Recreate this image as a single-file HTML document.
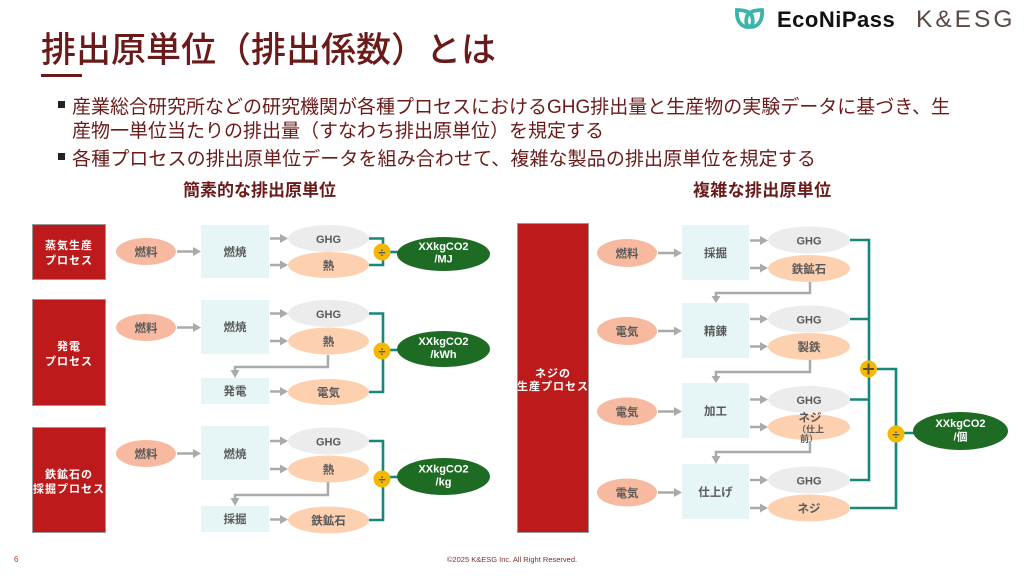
<!DOCTYPE html>
<html><head><meta charset="utf-8">
<style>
html,body{margin:0;padding:0;background:#fff;}
body{width:1024px;height:576px;overflow:hidden;}
svg{display:block;font-family:"Liberation Sans","Noto Sans CJK JP",sans-serif;}
.n{font-size:11.5px;font-weight:bold;fill:#595959;text-anchor:middle;}
.w{font-size:11px;font-weight:bold;fill:#fff;text-anchor:middle;letter-spacing:1px;}
.r{font-size:11px;font-weight:bold;fill:#fff;text-anchor:middle;}
.ga{stroke:#aaaaaa;stroke-width:2.5;fill:none;}
.gh{fill:#aaaaaa;}
.tl{stroke:#16877b;stroke-width:2.6;fill:none;}
</style></head>
<body>
<svg width="1024" height="576" viewBox="0 0 1024 576" xmlns="http://www.w3.org/2000/svg">
<!-- logo -->
<g fill="none" stroke="#3db3aa" stroke-width="3.8" stroke-linecap="round">
<path d="M737,10 C736,22 742,27 748,27 C752,27 754,23 752,16 C750,12 745,10 737,10 Z"/>
<path d="M762,10 C763,22 757,27 751,27 C747,27 745,23 747,16 C749,12 754,10 762,10 Z"/>
</g>
<text x="777" y="27" style="font-size:22px;font-weight:bold;fill:#111;letter-spacing:0.5px;">EcoNiPass</text>
<text x="916" y="27" style="font-size:24.5px;fill:#5a4a44;letter-spacing:3px;">K&amp;ESG</text>

<!-- title -->
<text x="41" y="62" style="font-size:35px;font-weight:500;fill:#6b1a1a;">排出原単位（排出係数）とは</text>
<rect x="41" y="74" width="41" height="3" fill="#6b1a1a"/>

<!-- bullets -->
<rect x="58" y="101" width="7" height="7" fill="#222"/>
<text x="72" y="113" style="font-size:19px;fill:#6b1a1a;">産業総合研究所などの研究機関が各種プロセスにおけるGHG排出量と生産物の実験データに基づき、生</text>
<text x="72" y="137" style="font-size:19px;fill:#6b1a1a;">産物一単位当たりの排出量（すなわち排出原単位）を規定する</text>
<rect x="58" y="153" width="7" height="7" fill="#222"/>
<text x="72" y="165" style="font-size:19px;fill:#6b1a1a;letter-spacing:0.1px;">各種プロセスの排出原単位データを組み合わせて、複雑な製品の排出原単位を規定する</text>

<text x="183" y="196" style="font-size:17px;font-weight:bold;fill:#6b1a1a;">簡素的な排出原単位</text>
<text x="693" y="196" style="font-size:17px;font-weight:bold;fill:#6b1a1a;letter-spacing:0.3px;">複雑な排出原単位</text>

<!-- ================= LEFT ================= -->
<!-- Block 1 -->
<rect x="32.5" y="224.5" width="73" height="55" fill="#bd1b1b" stroke="#999" stroke-width="1"/>
<text class="w" x="69" y="249">蒸気生産</text>
<text class="w" x="69" y="264">プロセス</text>
<ellipse cx="146" cy="251.5" rx="30" ry="13.5" fill="#f7b9a0"/>
<text class="n" x="146" y="256">燃料</text>
<line class="ga" x1="177" y1="251.5" x2="194" y2="251.5"/><polygon class="gh" points="193,247 201,251.5 193,256"/>
<rect x="201" y="225" width="68" height="53" fill="#e6f5f5"/>
<text class="n" x="235" y="256">燃焼</text>
<line class="ga" x1="270" y1="238.5" x2="281" y2="238.5"/><polygon class="gh" points="280,234 288,238.5 280,243"/>
<line class="ga" x1="270" y1="265" x2="281" y2="265"/><polygon class="gh" points="280,260.5 288,265 280,269.5"/>
<ellipse cx="328.5" cy="238.5" rx="40.5" ry="13.5" fill="#ececec"/>
<text class="n" x="328.5" y="243" style="font-size:11px">GHG</text>
<ellipse cx="328.5" cy="265" rx="40.5" ry="13" fill="#fdd0b0"/>
<text class="n" x="328.5" y="269.5">熱</text>
<path class="tl" d="M369,238.5 H383 V265 H369"/>
<line class="tl" x1="383" y1="252" x2="398" y2="252"/>
<circle cx="382" cy="252" r="8.5" fill="#f5b800"/>
<text x="382" y="257" style="font-size:13px;font-weight:bold;fill:#555;text-anchor:middle;">÷</text>
<ellipse cx="443.5" cy="254" rx="46.5" ry="17" fill="#1e6b24"/>
<text class="r" x="443.5" y="250">XXkgCO2</text>
<text class="r" x="443.5" y="262.5">/MJ</text>

<!-- Block 2 -->
<rect x="32.5" y="299.5" width="73" height="106" fill="#bd1b1b" stroke="#999" stroke-width="1"/>
<text class="w" x="69" y="350">発電</text>
<text class="w" x="69" y="365">プロセス</text>
<ellipse cx="146" cy="327.5" rx="30" ry="13.5" fill="#f7b9a0"/>
<text class="n" x="146" y="332">燃料</text>
<line class="ga" x1="177" y1="327.5" x2="194" y2="327.5"/><polygon class="gh" points="193,323 201,327.5 193,332"/>
<rect x="201" y="300" width="68" height="54" fill="#e6f5f5"/>
<text class="n" x="235" y="331">燃焼</text>
<line class="ga" x1="270" y1="313.5" x2="281" y2="313.5"/><polygon class="gh" points="280,309 288,313.5 280,318"/>
<line class="ga" x1="270" y1="341" x2="281" y2="341"/><polygon class="gh" points="280,336.5 288,341 280,345.5"/>
<ellipse cx="328.5" cy="313.5" rx="40.5" ry="13.5" fill="#ececec"/>
<text class="n" x="328.5" y="318" style="font-size:11px">GHG</text>
<ellipse cx="328.5" cy="341" rx="40.5" ry="13.5" fill="#fdd0b0"/>
<text class="n" x="328.5" y="345.5">熱</text>
<path class="ga" d="M328,355 V367 H235 V371"/><polygon class="gh" points="230.5,370 239.5,370 235,378"/>
<rect x="201" y="378" width="68" height="26" fill="#e6f5f5"/>
<text class="n" x="235" y="395">発電</text>
<line class="ga" x1="270" y1="391.5" x2="281" y2="391.5"/><polygon class="gh" points="280,387 288,391.5 280,396"/>
<ellipse cx="328.5" cy="392" rx="40.5" ry="13" fill="#fdd0b0"/>
<text class="n" x="328.5" y="396.5">電気</text>
<path class="tl" d="M369,313.5 H383 V392 H369"/>
<line class="tl" x1="383" y1="350" x2="398" y2="350"/>
<circle cx="382" cy="351" r="8.5" fill="#f5b800"/>
<text x="382" y="356" style="font-size:13px;font-weight:bold;fill:#555;text-anchor:middle;">÷</text>
<ellipse cx="443.5" cy="349" rx="46.5" ry="18" fill="#1e6b24"/>
<text class="r" x="443.5" y="345">XXkgCO2</text>
<text class="r" x="443.5" y="358">/kWh</text>

<!-- Block 3 -->
<rect x="32.5" y="427.5" width="73" height="105" fill="#bd1b1b" stroke="#999" stroke-width="1"/>
<text class="w" x="69" y="478">鉄鉱石の</text>
<text class="w" x="69" y="492.5">採掘プロセス</text>
<ellipse cx="146" cy="453.5" rx="30" ry="13.5" fill="#f7b9a0"/>
<text class="n" x="146" y="458">燃料</text>
<line class="ga" x1="177" y1="453.5" x2="194" y2="453.5"/><polygon class="gh" points="193,449 201,453.5 193,458"/>
<rect x="201" y="426" width="68" height="54" fill="#e6f5f5"/>
<text class="n" x="235" y="458">燃焼</text>
<line class="ga" x1="270" y1="441" x2="281" y2="441"/><polygon class="gh" points="280,436.5 288,441 280,445.5"/>
<line class="ga" x1="270" y1="469" x2="281" y2="469"/><polygon class="gh" points="280,464.5 288,469 280,473.5"/>
<ellipse cx="328.5" cy="441" rx="40.5" ry="13.5" fill="#ececec"/>
<text class="n" x="328.5" y="445.5" style="font-size:11px">GHG</text>
<ellipse cx="328.5" cy="469" rx="40.5" ry="13.5" fill="#fdd0b0"/>
<text class="n" x="328.5" y="473.5">熱</text>
<path class="ga" d="M328,482 V495 H235 V499"/><polygon class="gh" points="230.5,498 239.5,498 235,506"/>
<rect x="201" y="506" width="68" height="26" fill="#e6f5f5"/>
<text class="n" x="235" y="523">採掘</text>
<line class="ga" x1="270" y1="519.5" x2="281" y2="519.5"/><polygon class="gh" points="280,515 288,519.5 280,524"/>
<ellipse cx="328.5" cy="520" rx="40.5" ry="13.5" fill="#fdd0b0"/>
<text class="n" x="328.5" y="524.5">鉄鉱石</text>
<path class="tl" d="M369,441 H383 V520 H369"/>
<line class="tl" x1="383" y1="477" x2="398" y2="477"/>
<circle cx="382" cy="479" r="8.5" fill="#f5b800"/>
<text x="382" y="484" style="font-size:13px;font-weight:bold;fill:#555;text-anchor:middle;">÷</text>
<ellipse cx="443.5" cy="476.5" rx="46.5" ry="18.5" fill="#1e6b24"/>
<text class="r" x="443.5" y="472.5">XXkgCO2</text>
<text class="r" x="443.5" y="485.5">/kg</text>

<!-- ================= RIGHT ================= -->
<rect x="517.5" y="223.5" width="71" height="309" fill="#bd1b1b" stroke="#999" stroke-width="1"/>
<text class="w" x="553" y="377">ネジの</text>
<text class="w" x="553" y="390">生産プロセス</text>

<!-- Row 1 -->
<ellipse cx="627" cy="253" rx="30" ry="14" fill="#f7b9a0"/>
<text class="n" x="627" y="257.5">燃料</text>
<line class="ga" x1="658" y1="253" x2="675" y2="253"/><polygon class="gh" points="674,248.5 682,253 674,257.5"/>
<rect x="682" y="225" width="67" height="55" fill="#e6f5f5"/>
<text class="n" x="715.5" y="257">採掘</text>
<line class="ga" x1="750" y1="240.5" x2="761" y2="240.5"/><polygon class="gh" points="760,236 768,240.5 760,245"/>
<line class="ga" x1="750" y1="268" x2="761" y2="268"/><polygon class="gh" points="760,263.5 768,268 760,272.5"/>
<ellipse cx="809" cy="240" rx="41" ry="13.5" fill="#ececec"/>
<text class="n" x="809" y="244.5" style="font-size:11px">GHG</text>
<ellipse cx="809" cy="268.5" rx="41" ry="13.5" fill="#fdd0b0"/>
<text class="n" x="809" y="273">鉄鉱石</text>
<path class="ga" d="M810,282 V293 H716 V297"/><polygon class="gh" points="711.5,296 720.5,296 716,303"/>

<!-- Row 2 -->
<ellipse cx="627" cy="331" rx="30" ry="14" fill="#f7b9a0"/>
<text class="n" x="627" y="335.5">電気</text>
<line class="ga" x1="658" y1="331" x2="675" y2="331"/><polygon class="gh" points="674,326.5 682,331 674,335.5"/>
<rect x="682" y="303" width="67" height="55" fill="#e6f5f5"/>
<text class="n" x="715.5" y="335">精錬</text>
<line class="ga" x1="750" y1="319" x2="761" y2="319"/><polygon class="gh" points="760,314.5 768,319 760,323.5"/>
<line class="ga" x1="750" y1="346.5" x2="761" y2="346.5"/><polygon class="gh" points="760,342 768,346.5 760,351"/>
<ellipse cx="809" cy="319" rx="41" ry="13.5" fill="#ececec"/>
<text class="n" x="809" y="323.5" style="font-size:11px">GHG</text>
<ellipse cx="809" cy="346.5" rx="41" ry="13.5" fill="#fdd0b0"/>
<text class="n" x="809" y="351">製鉄</text>
<path class="ga" d="M810,360 V372 H716 V377"/><polygon class="gh" points="711.5,376 720.5,376 716,383"/>

<!-- Row 3 -->
<ellipse cx="627" cy="411.5" rx="30" ry="14" fill="#f7b9a0"/>
<text class="n" x="627" y="416">電気</text>
<line class="ga" x1="658" y1="411.5" x2="675" y2="411.5"/><polygon class="gh" points="674,407 682,411.5 674,416"/>
<rect x="682" y="383" width="67" height="55" fill="#e6f5f5"/>
<text class="n" x="715.5" y="415">加工</text>
<line class="ga" x1="750" y1="399.5" x2="761" y2="399.5"/><polygon class="gh" points="760,395 768,399.5 760,404"/>
<line class="ga" x1="750" y1="427" x2="761" y2="427"/><polygon class="gh" points="760,422.5 768,427 760,431.5"/>
<ellipse cx="809" cy="399.5" rx="41" ry="13.5" fill="#ececec"/>
<text class="n" x="809" y="404" style="font-size:11px">GHG</text>
<ellipse cx="809" cy="427" rx="41" ry="13" fill="#fdd0b0"/>
<text class="n" x="810" y="421.5">ネジ</text>
<text x="797" y="432.5" style="font-size:9px;font-weight:bold;fill:#595959;">（仕上</text>
<text x="800" y="442" style="font-size:9px;font-weight:bold;fill:#595959;">前）</text>
<path class="ga" d="M810,441 V452 H716 V457"/><polygon class="gh" points="711.5,456 720.5,456 716,464"/>

<!-- Row 4 -->
<ellipse cx="627" cy="492.5" rx="30" ry="14" fill="#f7b9a0"/>
<text class="n" x="627" y="497">電気</text>
<line class="ga" x1="658" y1="492.5" x2="675" y2="492.5"/><polygon class="gh" points="674,488 682,492.5 674,497"/>
<rect x="682" y="464" width="67" height="55" fill="#e6f5f5"/>
<text class="n" x="715.5" y="496">仕上げ</text>
<line class="ga" x1="750" y1="480" x2="761" y2="480"/><polygon class="gh" points="760,475.5 768,480 760,484.5"/>
<line class="ga" x1="750" y1="508" x2="761" y2="508"/><polygon class="gh" points="760,503.5 768,508 760,512.5"/>
<ellipse cx="809" cy="480" rx="41" ry="13.5" fill="#ececec"/>
<text class="n" x="809" y="484.5" style="font-size:11px">GHG</text>
<ellipse cx="809" cy="508" rx="41" ry="13.5" fill="#fdd0b0"/>
<text class="n" x="809" y="512.5">ネジ</text>

<!-- teal connectors right -->
<path class="tl" d="M850,240 H869 V480 H850"/>
<line class="tl" x1="850" y1="319" x2="869" y2="319"/>
<line class="tl" x1="850" y1="399.5" x2="869" y2="399.5"/>
<path class="tl" d="M869,369 H896 V508 H850"/>
<line class="tl" x1="896" y1="433" x2="914" y2="433"/>
<circle cx="868.5" cy="369" r="8.5" fill="#f5b800"/>
<line x1="863" y1="369" x2="874" y2="369" stroke="#5a4a30" stroke-width="2"/>
<line x1="868.5" y1="363.5" x2="868.5" y2="374.5" stroke="#5a4a30" stroke-width="2"/>
<circle cx="896" cy="434" r="8.5" fill="#f5b800"/>
<text x="896" y="439" style="font-size:13px;font-weight:bold;fill:#555;text-anchor:middle;">÷</text>
<ellipse cx="960.5" cy="431" rx="47.5" ry="19" fill="#1e6b24"/>
<text class="r" x="960.5" y="427">XXkgCO2</text>
<text class="r" x="960.5" y="440.5">/個</text>

<!-- footer -->
<text x="14" y="562" style="font-size:8px;fill:#c0392b;">6</text>
<text x="512" y="562" style="font-size:7.5px;fill:#7b2f2f;text-anchor:middle;">©2025 K&amp;ESG Inc. All Right Reserved.</text>
</svg>
</body></html>
